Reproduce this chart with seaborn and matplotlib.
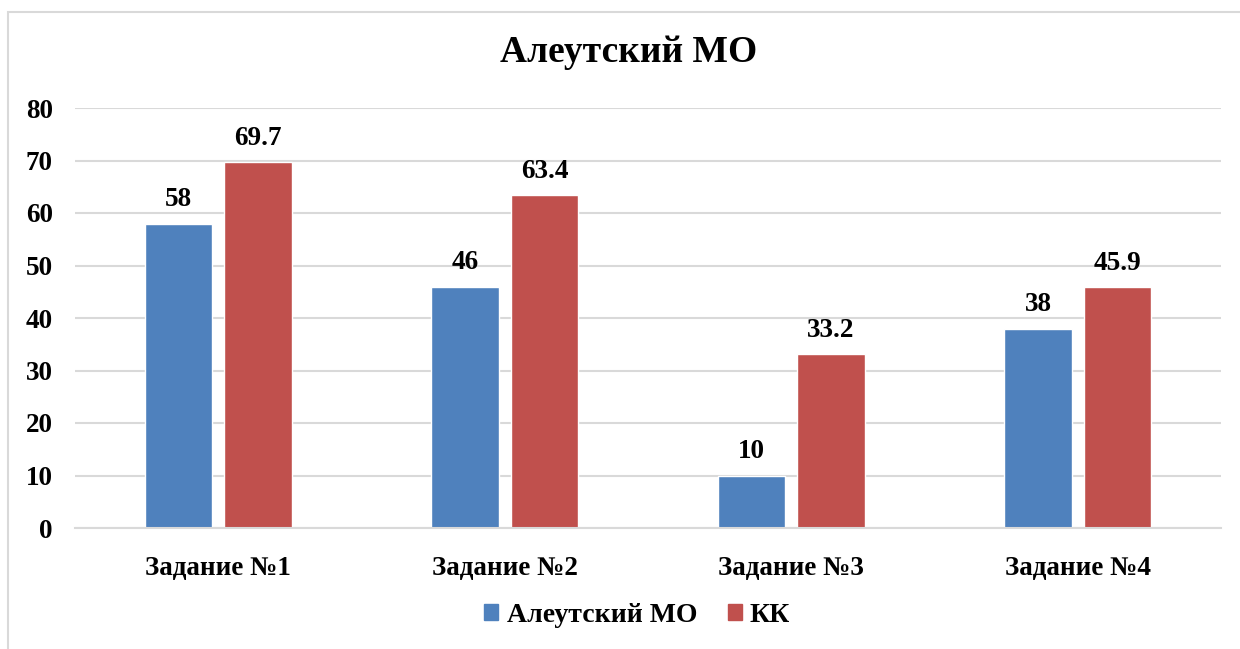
import matplotlib
matplotlib.use('Agg')
import matplotlib.pyplot as plt
import seaborn as sns
import pandas as pd
from matplotlib.patches import Rectangle

# Данные диаграммы
tasks = ['Задание №1', 'Задание №2', 'Задание №3', 'Задание №4']
series = ['Алеутский МО', 'КК']
aleut_values = [58, 46, 10, 38]
kk_values = [69.7, 63.4, 33.2, 45.9]
value_labels = {'Алеутский МО': ['58', '46', '10', '38'],
                'КК': ['69.7', '63.4', '33.2', '45.9']}

df = pd.DataFrame({
    'task': tasks * 2,
    'series': [series[0]] * 4 + [series[1]] * 4,
    'value': aleut_values + kk_values,
})

sns.set_style("white")
plt.rcParams['font.family'] = ['Liberation Serif', 'DejaVu Serif']
plt.rcParams['font.weight'] = 'bold'
plt.rcParams['text.color'] = 'black'
plt.rcParams['xtick.color'] = 'black'
plt.rcParams['ytick.color'] = 'black'

palette = {'Алеутский МО': '#4F81BD', 'КК': '#C0504D'}

fig = plt.figure(figsize=(12.4, 6.49), dpi=100)
ax = fig.add_axes([75 / 1240, 1 - 528 / 649, 1146 / 1240, 420 / 649])

sns.barplot(data=df, x='task', y='value', hue='series', palette=palette,
            order=tasks, hue_order=series, width=0.555, gap=0.145,
            saturation=1, ax=ax, legend=True)

ax.set_ylim(0, 80)
ax.set_xlim(-0.5, 3.5)
ax.set_yticks(range(0, 81, 10))
ax.yaxis.grid(True, color='#d9d9d9', linewidth=1.5)
ax.set_axisbelow(True)
sns.despine(ax=ax, left=True, top=True, right=True)
ax.spines['bottom'].set_color('#d9d9d9')
ax.spines['bottom'].set_linewidth(1.5)
ax.tick_params(axis='both', length=0, labelsize=19.5, labelcolor='black')
ax.tick_params(axis='y', pad=16)
ax.tick_params(axis='x', pad=20)
for lbl in ax.get_xticklabels() + ax.get_yticklabels():
    lbl.set_fontweight('bold')
ax.set_xlabel('')
ax.set_ylabel('')

# Подписи значений
for container, name in zip(ax.containers, series):
    ax.bar_label(container, labels=value_labels[name], padding=8,
                 fontsize=19.5, fontweight='bold', color='black')

fig.suptitle('Алеутский МО', x=0.507, y=1 - 52 / 649, va='center',
             fontsize=27, fontweight='bold', color='black')

ax.legend_.remove()
handles = [Rectangle((0, 0), 1, 1, color=palette[s]) for s in series]
fig.legend(handles, series, loc='center', bbox_to_anchor=(0.514, 1 - 615 / 649),
           ncol=2, frameon=False, handlelength=0.5,
           handleheight=0.5, handletextpad=0.3, columnspacing=1.1,
           labelcolor='black', prop={'weight': 'bold', 'size': 20})

# Рамка области диаграммы
fig.patches.append(Rectangle((8 / 1240, -0.1), 1.2, 1 - 12 / 649 + 0.1,
                             transform=fig.transFigure, fill=False,
                             edgecolor='#d9d9d9', linewidth=1.5))

fig.savefig('out.png', dpi=100, facecolor='white')
plt.close(fig)
